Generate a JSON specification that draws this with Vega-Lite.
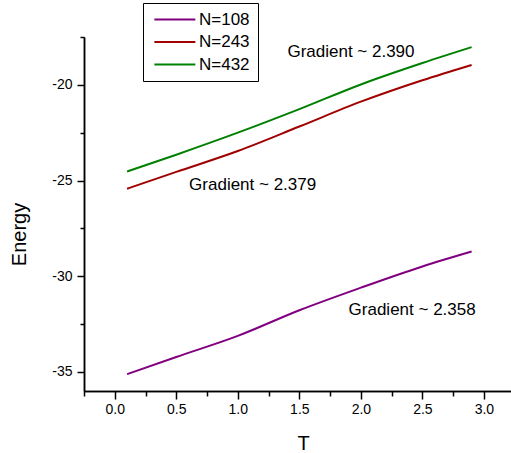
{
  "$schema": "https://vega.github.io/schema/vega-lite/v6.json",
  "autosize": {"type": "none"},
  "padding": {"left": 84, "top": 37, "right": 0, "bottom": 62},
  "width": 427,
  "height": 354,
  "background": "white",
  "config": {
    "font": "Liberation Sans",
    "view": {"stroke": null},
    "axis": {
      "domainColor": "black", "domainWidth": 1.5, "tickColor": "black", "tickWidth": 1.5,
      "labelColor": "black", "titleColor": "black", "grid": false, "labelOverlap": false,
      "labelFont": "Liberation Sans", "titleFont": "Liberation Sans", "titleFontWeight": "normal"
    }
  },
  "resolve": {"axis": {"x": "independent", "y": "independent"}},
  "layer": [
    {
      "data": {"values": [
        {"T": 0.1, "E": -35.12, "N": "N=108"},
        {"T": 0.5, "E": -34.22, "N": "N=108"},
        {"T": 1.0, "E": -33.12, "N": "N=108"},
        {"T": 1.5, "E": -31.78, "N": "N=108"},
        {"T": 2.0, "E": -30.60, "N": "N=108"},
        {"T": 2.5, "E": -29.49, "N": "N=108"},
        {"T": 2.9, "E": -28.71, "N": "N=108"},
        {"T": 0.1, "E": -25.43, "N": "N=243"},
        {"T": 0.5, "E": -24.55, "N": "N=243"},
        {"T": 1.0, "E": -23.46, "N": "N=243"},
        {"T": 1.5, "E": -22.18, "N": "N=243"},
        {"T": 2.0, "E": -20.88, "N": "N=243"},
        {"T": 2.5, "E": -19.76, "N": "N=243"},
        {"T": 2.9, "E": -18.96, "N": "N=243"},
        {"T": 0.1, "E": -24.53, "N": "N=432"},
        {"T": 0.5, "E": -23.65, "N": "N=432"},
        {"T": 1.0, "E": -22.50, "N": "N=432"},
        {"T": 1.5, "E": -21.27, "N": "N=432"},
        {"T": 2.0, "E": -19.98, "N": "N=432"},
        {"T": 2.5, "E": -18.86, "N": "N=432"},
        {"T": 2.9, "E": -18.03, "N": "N=432"}
      ]},
      "mark": {"type": "line", "strokeWidth": 2, "interpolate": "monotone"},
      "encoding": {
        "x": {
          "field": "T", "type": "quantitative",
          "scale": {"domain": [-0.25, 3.22], "nice": false, "zero": false},
          "axis": {
            "orient": "bottom",
            "title": "T", "titleFontSize": 20, "titleX": 219, "titleY": 52, "titleBaseline": "middle",
            "values": [0, 0.5, 1, 1.5, 2, 2.5, 3],
            "labelExpr": "format(datum.value, '.1f')",
            "labelFontSize": 14, "labelPadding": 3, "tickSize": 8
          }
        },
        "y": {
          "field": "E", "type": "quantitative",
          "scale": {"domain": [-36, -17.5], "nice": false, "zero": false},
          "axis": {
            "orient": "left",
            "title": "Energy", "titleFontSize": 20, "titleX": -65, "titleY": 197, "titleBaseline": "middle", "titleAlign": "center", "titleAngle": -90,
            "values": [-35, -30, -25, -20],
            "labelExpr": "'' + datum.value",
            "labelFontSize": 14, "labelPadding": 5, "tickSize": 7
          }
        },
        "color": {
          "field": "N", "type": "nominal",
          "scale": {"domain": ["N=108", "N=243", "N=432"], "range": ["#800080", "#A00000", "#008000"]},
          "legend": {
            "title": null, "orient": "none", "legendX": 59, "legendY": -34,
            "strokeColor": "black", "padding": 8, "symbolType": "M-1,0H7", "symbolSize": 105,
            "symbolStrokeWidth": 2, "labelFontSize": 17, "labelColor": "black", "labelOffset": 31,
            "rowPadding": 4.5, "labelFont": "Liberation Sans"
          }
        }
      }
    },
    {
      "data": {"values": [
        {"T": 1.403, "E": -18.26, "label": "Gradient ~ 2.390"},
        {"T": 0.604, "E": -25.26, "label": "Gradient ~ 2.379"},
        {"T": 1.90, "E": -31.76, "label": "Gradient ~ 2.358"}
      ]},
      "mark": {"type": "text", "align": "left", "baseline": "middle", "fontSize": 17, "color": "black", "font": "Liberation Sans"},
      "encoding": {
        "x": {
          "field": "T", "type": "quantitative",
          "axis": {"orient": "bottom", "title": null, "labels": false, "tickSize": 5,
                   "values": [-0.25, 0.25, 0.75, 1.25, 1.75, 2.25, 2.75]}
        },
        "y": {
          "field": "E", "type": "quantitative",
          "axis": {"orient": "left", "title": null, "labels": false, "tickSize": 4,
                   "values": [-32.5, -27.5, -22.5, -17.5]}
        },
        "text": {"field": "label"}
      }
    }
  ]
}
